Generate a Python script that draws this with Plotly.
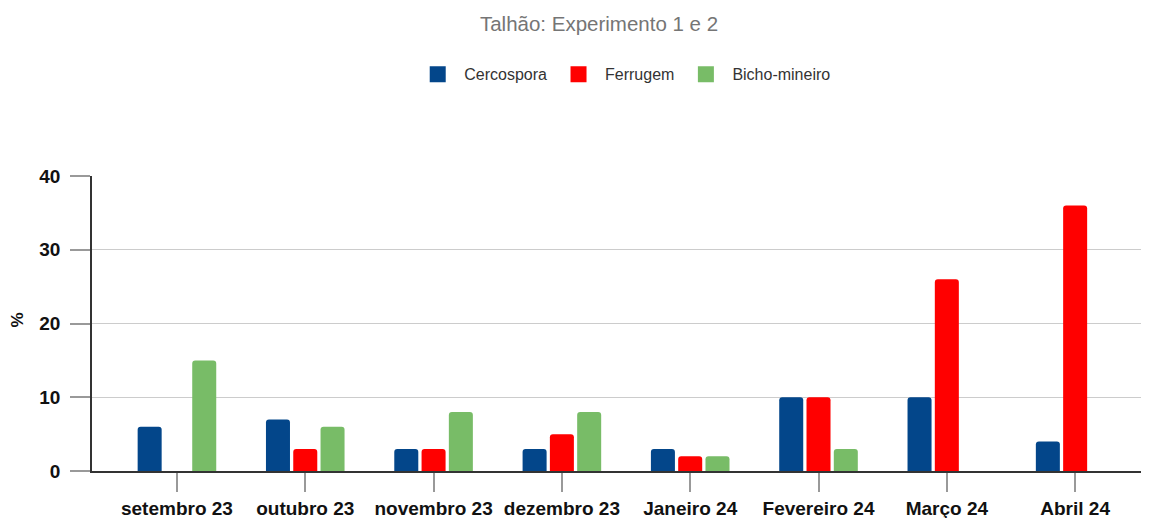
import plotly.graph_objects as go

categories = ["setembro 23", "outubro 23", "novembro 23", "dezembro 23",
              "Janeiro 24", "Fevereiro 24", "Março 24", "Abril 24"]
cercospora = [6, 7, 3, 3, 3, 10, 10, 4]
ferrugem = [0, 3, 3, 5, 2, 10, 26, 36]
bicho_mineiro = [15, 6, 8, 8, 2, 3, 0, 0]
series_names = ["Cercospora", "Ferrugem", "Bicho-mineiro"]
colors = ["#03468A", "#FF0000", "#78BC67"]
y_ticks = [0, 10, 20, 30, 40]

fig = go.Figure()
for name, vals, col in zip(series_names, [cercospora, ferrugem, bicho_mineiro], colors):
    fig.add_trace(go.Bar(x=categories, y=vals, name=name, marker_color=col,
                         marker_line_width=0, showlegend=False))
# legend proxies (larger square swatches)
for name, col in zip(series_names, colors):
    fig.add_trace(go.Scatter(x=[None], y=[None], mode="markers", name=name,
                             marker=dict(symbol="square", size=18, color=col)))

fig.update_layout(
    width=1141, height=510,
    paper_bgcolor="white", plot_bgcolor="white",
    font=dict(family="Liberation Sans, Arial, sans-serif", color="#222"),
    title=dict(text="Talhão: Experimento 1 e 2", x=0.518, xanchor="center",
               y=0.969, yanchor="middle", automargin=False,
               font=dict(size=20.5, color="#757575")),
    legend=dict(orientation="h", x=0.504, xanchor="center", y=1.345, yanchor="middle",
                font=dict(size=16, color="#333"), itemsizing="trace",
                tracegroupgap=0, itemwidth=43),
    margin=dict(l=84, r=2, t=168, b=47, autoexpand=False),
    barmode="group", bargap=0.362, bargroupgap=0.12, barcornerradius=3,
    xaxis=dict(type="category", range=[-0.662, 7.56], automargin=False,
               showline=True, linecolor="#333", linewidth=1.5,
               ticks="outside", ticklen=19, tickcolor="#999", tickwidth=1.5,
               tickfont=dict(size=19, color="#111", weight="bold"),
               showgrid=False, fixedrange=True),
    yaxis=dict(range=[0, 40], tickvals=y_ticks, automargin=False,
               showline=True, linecolor="#333", linewidth=1.5,
               ticks="outside", ticklen=20, tickcolor="#999", tickwidth=1.5,
               tickfont=dict(size=19, color="#111", weight="bold"),
               ticklabelstandoff=6,
               showgrid=True, gridcolor="#cccccc", gridwidth=1.2,
               zeroline=False),
    annotations=[dict(text="%", textangle=-90, xref="paper", yref="paper",
                      x=(10 - 84) / 1055, y=0.51, xanchor="center", yanchor="middle",
                      showarrow=False,
                      font=dict(size=17, color="#111", weight="bold"))],
)

fig.write_html("out.html")
